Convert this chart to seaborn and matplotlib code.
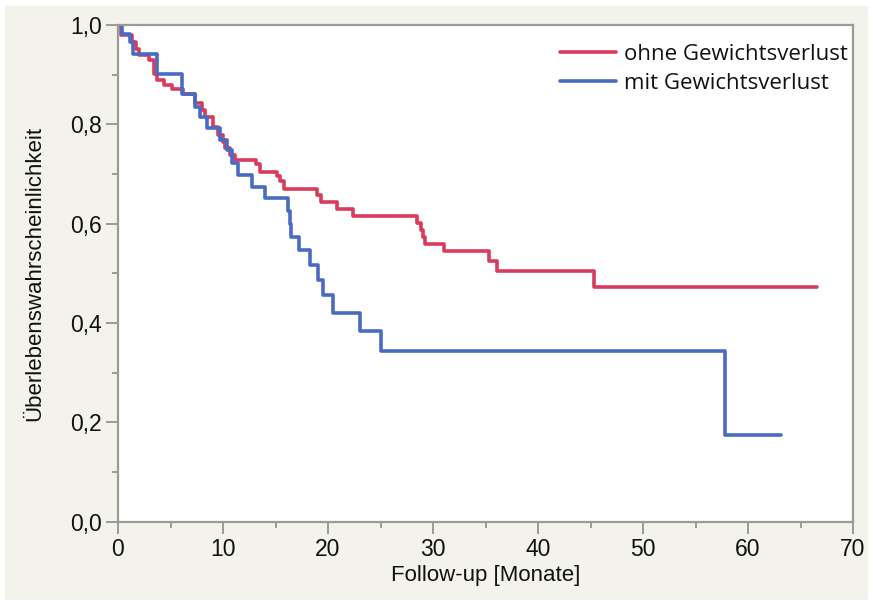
import matplotlib
matplotlib.use("Agg")
import matplotlib.pyplot as plt
from matplotlib import font_manager
from matplotlib.patches import Rectangle
from matplotlib.lines import Line2D
from matplotlib.ticker import MultipleLocator, FixedLocator
import seaborn as sns
import pandas as pd

# Kaplan-Meier step curves (months, survival probability)
time_ohne = [0, 0.26, 1.36, 1.74, 2.0, 2.95, 3.43, 3.75, 4.38, 5.17, 6.22, 7.33,
             8.03, 8.29, 9.0, 9.56, 10.03, 10.19, 10.67, 11.14, 13.1, 13.52, 15.1,
             15.45, 15.8, 18.95, 19.3, 20.85, 22.4, 28.5, 28.86, 29.05, 29.28,
             31.09, 35.3, 36.1, 45.33, 66.6]
surv_ohne = [1.0, 0.979, 0.966, 0.952, 0.939, 0.929, 0.902, 0.889, 0.879, 0.872,
             0.862, 0.842, 0.829, 0.815, 0.795, 0.778, 0.765, 0.752, 0.738, 0.728,
             0.720, 0.705, 0.695, 0.685, 0.669, 0.658, 0.644, 0.630, 0.615, 0.601,
             0.587, 0.574, 0.559, 0.544, 0.525, 0.505, 0.473, 0.473]

time_mit = [0, 0.4, 1.14, 1.43, 3.69, 6.12, 7.33, 7.8, 8.45, 9.71, 10.35, 10.83,
            11.46, 12.73, 14.0, 16.2, 16.35, 16.5, 17.2, 18.3, 19.0, 19.5, 20.5,
            23.05, 25.02, 57.8, 63.14]
surv_mit = [1.0, 0.982, 0.966, 0.942, 0.902, 0.862, 0.835, 0.815, 0.792, 0.768,
            0.748, 0.722, 0.698, 0.674, 0.652, 0.625, 0.600, 0.574, 0.548, 0.517,
            0.487, 0.456, 0.421, 0.383, 0.344, 0.1745, 0.1745]

groups = ["ohne Gewichtsverlust", "mit Gewichtsverlust"]
colors = ["#DA3A5B", "#4A6BC2"]

x_ticks = [0, 10, 20, 30, 40, 50, 60, 70]
y_ticks = [0.0, 0.2, 0.4, 0.6, 0.8, 1.0]
y_tick_labels = ["0,0", "0,2", "0,4", "0,6", "0,8", "1,0"]

df = pd.concat([
    pd.DataFrame({"Monate": time_ohne, "Survival": surv_ohne, "Gruppe": groups[0]}),
    pd.DataFrame({"Monate": time_mit, "Survival": surv_mit, "Gruppe": groups[1]}),
], ignore_index=True)

sns.set_theme(style="white")

available = {f.name for f in font_manager.fontManager.ttflist}
text_font = "Liberation Sans"
legend_font = "Open Sans" if "Open Sans" in available else "DejaVu Sans"

W, H = 873, 603
fig = plt.figure(figsize=(W / 100, H / 100), dpi=100, facecolor="white")
fig.add_artist(Rectangle((5 / W, 1 - 600 / H), (868 - 5) / W, (600 - 6) / H,
                         transform=fig.transFigure, facecolor="#F3F3EC",
                         edgecolor="none", zorder=-10))

ax = fig.add_axes([118 / W, 1 - 521.7 / H, (853 - 118) / W, (521.7 - 25) / H])
ax.set_zorder(1)
ax.set_facecolor("white")

sns.lineplot(data=df, x="Monate", y="Survival", hue="Gruppe", hue_order=groups,
             palette=colors, estimator=None, sort=False, drawstyle="steps-post",
             linewidth=2.6, ax=ax, legend=False)

ax.set_xlim(0, 70)
ax.set_ylim(0, 1.0)
ax.xaxis.set_major_locator(FixedLocator(x_ticks))
ax.xaxis.set_minor_locator(MultipleLocator(5))
ax.yaxis.set_major_locator(FixedLocator(y_ticks))
ax.yaxis.set_minor_locator(MultipleLocator(0.1))
ax.set_yticklabels(y_tick_labels)
ax.set_xticklabels([str(t) for t in x_ticks])

spine_col = "#9A9A9A"
for s in ax.spines.values():
    s.set_color(spine_col)
    s.set_linewidth(1.6)

ax.tick_params(which="major", direction="out", length=8.5, width=1.4, color=spine_col,
               labelsize=16.5, pad=3, labelcolor="#111111",
               bottom=True, left=True, top=False, right=False)
ax.tick_params(which="minor", direction="out", length=4.5, width=1.4, color=spine_col,
               bottom=True, left=True, top=False, right=False)
for lab in ax.get_xticklabels() + ax.get_yticklabels():
    lab.set_fontfamily(text_font)

ax.set_xlabel("Follow-up [Monate]", fontsize=16, family=text_font, color="#111111")
ax.set_ylabel("Überlebenswahrscheinlichkeit", fontsize=16, family=text_font, color="#111111")
ax.xaxis.set_label_coords(0.5, (521.7 - 565) / 496.7)
ax.yaxis.set_label_coords((45 - 118) / 735, 0.5)

handles = [Line2D([], [], color=c, linewidth=2.6) for c in colors]
leg = ax.legend(handles, groups, loc="upper left", bbox_to_anchor=(560 / W, 1 - 44 / H),
                bbox_transform=fig.transFigure, frameon=False,
                prop={"family": legend_font, "size": 16},
                handlelength=2.5, handletextpad=0.36, labelspacing=0.35,
                borderaxespad=0, borderpad=0)
for t in leg.get_texts():
    t.set_color("#111111")

fig.savefig("out.png", dpi=100, facecolor=fig.get_facecolor())
